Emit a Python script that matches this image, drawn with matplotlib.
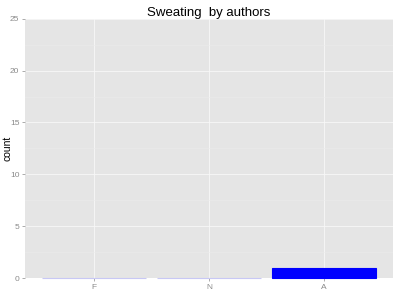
import matplotlib
matplotlib.use("Agg")
import matplotlib.pyplot as plt
import numpy as np

categories = ["F", "N", "A"]
counts = [0, 0, 1]
yticks = [0, 5, 10, 15, 20, 25]

plt.rcParams["font.family"] = ["Liberation Sans", "DejaVu Sans"]
fig = plt.figure(figsize=(4, 3), dpi=100)
ax = fig.add_axes([0.0625, 0.0733, 0.92, 0.864])
ax.set_facecolor("#e5e5e5")
x = np.arange(1, len(categories) + 1)
edge = ["#c8c8f5" if c == 0 else "blue" for c in counts]
ax.bar(x, counts, width=0.9, color="blue", edgecolor=edge, linewidth=0.8, zorder=3, clip_on=False)
ax.set_xlim(0.4, 3.6)
ax.set_ylim(0, 25)
ax.set_xticks(x)
ax.set_xticklabels(categories)
ax.set_yticks(yticks)
ax.set_yticks([2.5, 7.5, 12.5, 17.5, 22.5], minor=True)
ax.grid(which="major", color="#f8f8f8", linewidth=0.6, zorder=0)
ax.grid(which="minor", axis="y", color="#ececec", linewidth=0.4, zorder=0)
ax.set_axisbelow(True)
for s in ax.spines.values():
    s.set_visible(False)
ax.tick_params(axis="both", which="major", labelsize=6, colors="#8a8a8a", length=2, width=0.5, pad=2)
ax.tick_params(axis="both", which="minor", length=0)
ax.set_ylabel("count", fontsize=7.5)
ax.yaxis.set_label_coords(-0.033, 0.5)
ax.set_title("Sweating  by authors", fontsize=9.5, pad=2)
fig.savefig("out.png", dpi=100)
